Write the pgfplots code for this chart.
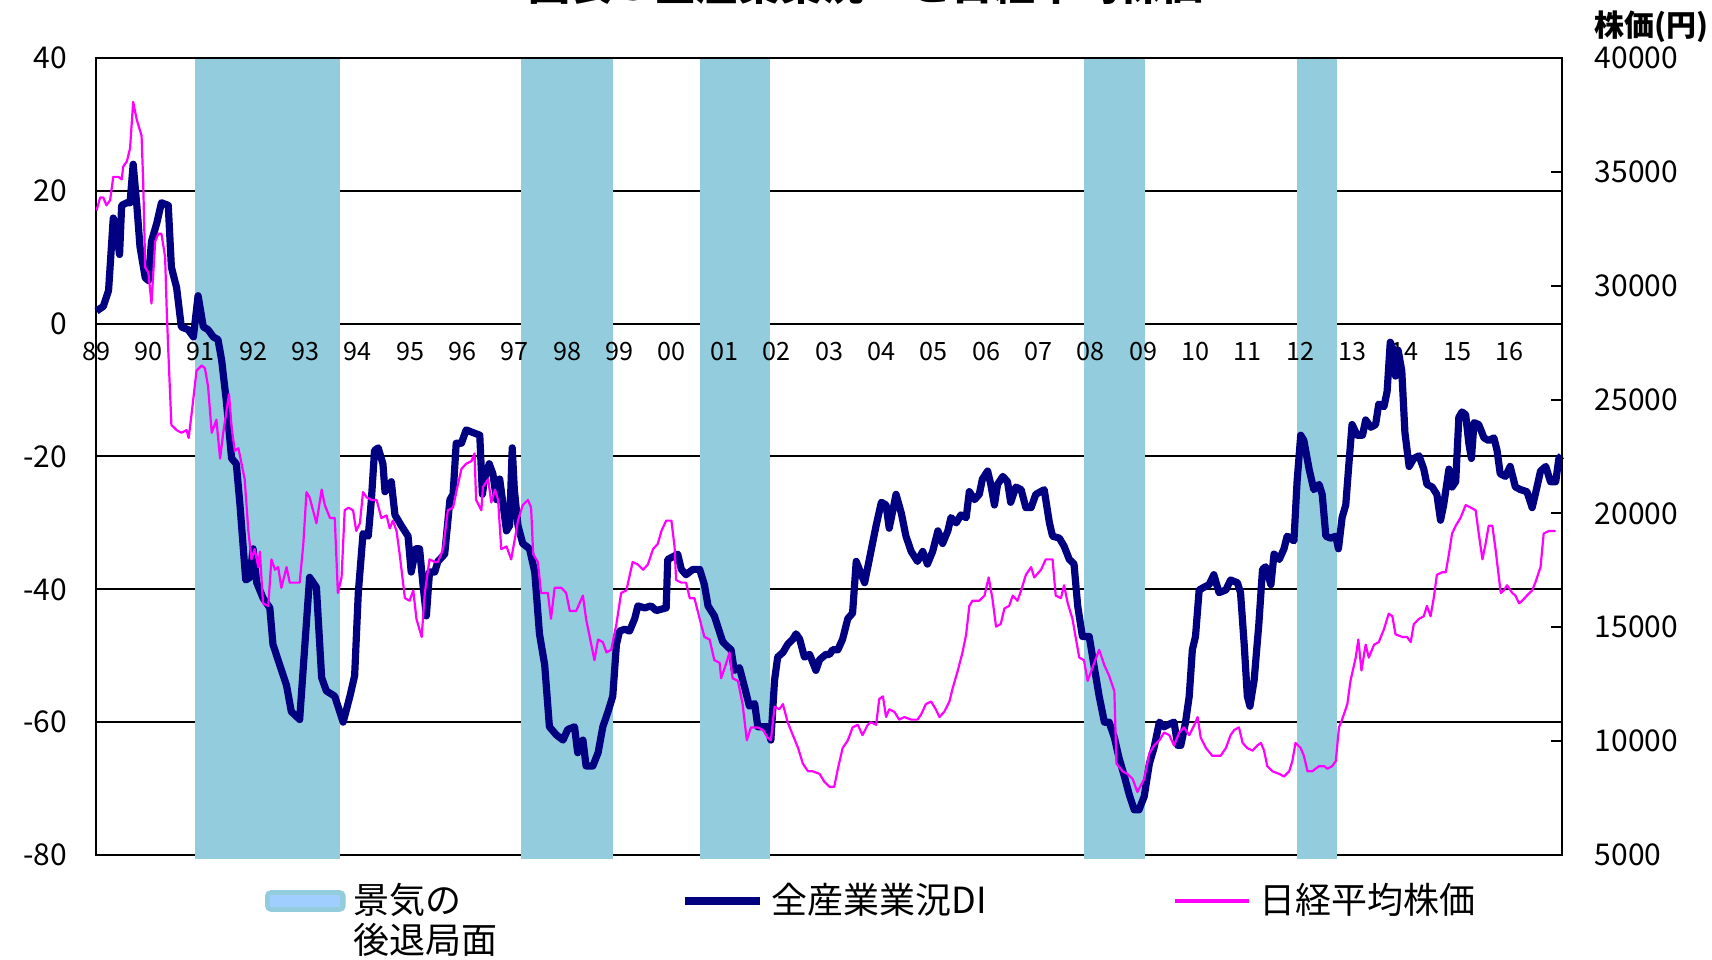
\documentclass[border=0pt]{standalone}
\usepackage{fontspec}
\setmainfont{Noto Sans CJK JP}
\usepackage{pgfplots}
\usepackage{pgfplotstable}
\pgfplotsset{compat=1.18}
\definecolor{bandcol}{RGB}{147,204,221}
\definecolor{bandlight}{RGB}{160,207,255}
\definecolor{dinavy}{RGB}{0,0,128}
\definecolor{nkmag}{RGB}{255,0,255}
\tikzset{ylab/.style={anchor=north, inner sep=0pt, yshift=-4.5pt, font=\fontsize{6.3}{7}\selectfont}}

\pgfplotstableread{
t v
0.01 1.9
0.14 2.6
0.24 5.0
0.33 15.9
0.39 13.9
0.45 10.4
0.49 17.8
0.59 18.2
0.65 18.2
0.71 24.0
0.78 17.8
0.84 11.6
0.94 6.9
1.00 6.5
1.06 12.4
1.16 15.1
1.25 18.2
1.38 17.8
1.44 8.5
1.54 5.4
1.63 -0.5
1.76 -0.9
1.86 -2.0
1.95 4.2
2.05 -0.5
2.14 -0.9
2.24 -2.0
2.33 -2.4
2.40 -5.5
2.49 -11.7
2.59 -20.3
2.68 -21.1
2.75 -27.3
2.81 -33.5
2.86 -38.6
2.94 -38.2
3.00 -33.9
3.07 -39.0
3.19 -41.3
3.32 -42.8
3.38 -48.3
3.51 -51.4
3.64 -54.5
3.73 -58.4
3.89 -59.6
3.99 -48.3
4.08 -38.2
4.21 -39.7
4.31 -53.3
4.40 -55.3
4.56 -56.1
4.72 -60.0
4.85 -56.1
4.94 -53.0
5.01 -40.5
5.10 -31.6
5.20 -32.0
5.26 -26.5
5.32 -19.1
5.39 -18.7
5.48 -21.1
5.52 -25.3
5.64 -23.8
5.71 -28.8
5.83 -30.4
5.96 -32.0
6.02 -37.4
6.11 -33.9
6.18 -33.9
6.25 -39.7
6.31 -44.0
6.37 -37.4
6.47 -37.4
6.53 -35.8
6.66 -34.7
6.76 -26.5
6.82 -25.7
6.88 -18.0
6.98 -18.0
7.07 -16.0
7.20 -16.4
7.33 -16.8
7.38 -25.7
7.42 -23.4
7.51 -21.1
7.58 -22.6
7.65 -26.5
7.71 -23.4
7.77 -26.9
7.84 -31.2
7.90 -30.4
7.95 -18.7
7.99 -25.0
8.06 -30.4
8.15 -33.1
8.28 -33.9
8.38 -37.4
8.47 -46.7
8.57 -51.4
8.66 -60.7
8.79 -61.9
8.92 -62.7
9.01 -61.1
9.14 -60.7
9.20 -64.6
9.30 -62.7
9.36 -66.6
9.49 -66.6
9.59 -64.6
9.68 -60.7
9.78 -58.4
9.87 -56.1
9.94 -48.3
10.00 -46.3
10.10 -46.0
10.19 -46.3
10.29 -44.4
10.35 -42.5
10.48 -42.8
10.60 -42.5
10.70 -43.2
10.89 -42.8
10.92 -35.5
11.02 -35.1
11.11 -34.7
11.18 -37.0
11.27 -37.8
11.40 -37.0
11.53 -37.0
11.62 -39.3
11.69 -42.5
11.81 -44.0
11.97 -47.9
12.07 -48.7
12.13 -49.1
12.19 -52.2
12.29 -51.8
12.38 -54.5
12.48 -57.6
12.58 -57.2
12.64 -60.7
12.83 -60.7
12.89 -62.7
12.96 -53.7
13.02 -50.2
13.12 -49.5
13.21 -48.3
13.31 -47.5
13.37 -46.7
13.44 -47.5
13.53 -50.2
13.63 -49.8
13.75 -52.2
13.82 -50.6
13.94 -49.8
14.01 -49.8
14.07 -49.1
14.17 -49.1
14.26 -47.5
14.36 -44.4
14.45 -43.6
14.52 -35.8
14.58 -37.0
14.68 -39.0
14.77 -35.5
14.90 -30.4
15.00 -26.9
15.09 -27.3
15.15 -30.8
15.22 -28.1
15.28 -25.7
15.38 -28.5
15.47 -32.0
15.57 -34.3
15.69 -35.8
15.79 -34.3
15.88 -36.2
15.98 -34.3
16.08 -31.2
16.17 -33.1
16.27 -31.2
16.33 -29.2
16.43 -30.0
16.52 -28.8
16.62 -29.2
16.68 -25.3
16.78 -26.5
16.87 -25.7
16.93 -23.4
17.03 -22.2
17.09 -24.2
17.16 -27.3
17.22 -24.2
17.32 -23.0
17.41 -23.8
17.47 -26.9
17.57 -24.6
17.67 -25.0
17.76 -27.7
17.86 -27.7
17.95 -25.7
18.11 -25.0
18.21 -30.0
18.27 -32.0
18.40 -32.3
18.49 -33.5
18.59 -35.5
18.68 -36.2
18.75 -42.5
18.84 -47.1
18.97 -47.1
19.06 -51.4
19.16 -56.1
19.26 -60.0
19.35 -60.0
19.45 -62.3
19.54 -65.4
19.64 -68.1
19.73 -70.8
19.83 -73.2
19.92 -73.2
20.02 -71.2
20.12 -66.2
20.21 -63.8
20.31 -60.0
20.40 -60.7
20.50 -60.3
20.59 -60.0
20.66 -63.5
20.72 -63.5
20.81 -60.0
20.88 -56.1
20.94 -49.1
21.00 -47.1
21.07 -40.1
21.16 -39.7
21.26 -39.3
21.35 -37.8
21.45 -40.5
21.58 -40.1
21.67 -38.6
21.80 -39.0
21.86 -40.5
21.93 -48.3
21.99 -56.1
22.04 -57.6
22.12 -53.7
22.21 -45.2
22.28 -37.0
22.34 -36.6
22.44 -39.3
22.50 -34.7
22.60 -35.5
22.69 -33.9
22.75 -32.0
22.88 -32.7
22.94 -23.8
23.01 -16.8
23.07 -17.6
23.17 -21.9
23.26 -25.0
23.36 -24.2
23.42 -25.7
23.49 -32.0
23.58 -32.3
23.68 -32.0
23.73 -33.9
23.80 -29.2
23.87 -27.3
23.93 -21.1
23.99 -15.2
24.09 -16.8
24.19 -16.8
24.25 -14.5
24.35 -15.6
24.44 -15.2
24.50 -12.1
24.60 -12.5
24.66 -10.2
24.72 -2.8
24.76 -3.6
24.82 -7.9
24.87 -4.0
24.94 -7.1
25.00 -16.4
25.08 -21.5
25.17 -20.3
25.27 -19.9
25.36 -21.9
25.42 -24.2
25.52 -24.6
25.61 -25.7
25.68 -29.6
25.74 -27.3
25.84 -21.9
25.90 -24.6
25.97 -23.8
26.03 -14.1
26.09 -13.3
26.16 -13.7
26.22 -18.0
26.27 -20.3
26.32 -14.9
26.41 -15.2
26.51 -17.2
26.60 -17.6
26.70 -17.2
26.76 -19.1
26.82 -22.6
26.92 -23.0
27.01 -21.5
27.11 -24.6
27.21 -25.0
27.33 -25.3
27.43 -27.7
27.49 -25.7
27.59 -22.2
27.69 -21.5
27.78 -23.8
27.88 -23.8
27.94 -20.3
27.99 -19.9
}\didata

\pgfplotstableread{
t v
0.01 33303
0.08 33871
0.14 33871
0.20 33530
0.27 33758
0.33 34779
0.43 34779
0.49 34666
0.52 35233
0.59 35460
0.65 36027
0.71 38071
0.78 37276
0.87 36595
0.90 34666
0.94 30807
1.00 30580
1.06 29218
1.13 31942
1.19 32283
1.25 32283
1.32 31261
1.35 28991
1.38 27175
1.44 23884
1.54 23657
1.63 23543
1.73 23657
1.77 23316
1.83 24451
1.92 26267
2.02 26494
2.08 26380
2.14 25586
2.21 23543
2.30 24111
2.37 22408
2.43 23543
2.49 24451
2.54 25246
2.59 23770
2.65 22749
2.72 22862
2.78 22182
2.84 21501
2.91 19231
2.97 17982
3.03 18436
3.10 17641
3.13 18322
3.19 16052
3.29 15938
3.35 17982
3.42 17528
3.48 17641
3.54 16733
3.64 17641
3.70 16960
3.89 16960
3.96 18663
4.02 20932
4.08 20705
4.21 19570
4.31 21046
4.37 20365
4.47 19797
4.56 19797
4.62 16506
4.69 17187
4.75 20138
4.82 20251
4.91 20138
4.97 19231
5.04 19570
5.10 20932
5.17 20705
5.26 20592
5.36 20592
5.45 19797
5.55 19911
5.61 19343
5.67 19684
5.74 19231
5.80 18209
5.90 16279
5.99 16165
6.06 16619
6.12 15371
6.22 14576
6.28 16506
6.37 17982
6.47 17868
6.53 17868
6.63 18436
6.72 20138
6.82 20251
6.88 20932
6.98 21954
7.07 22182
7.17 22295
7.23 22635
7.26 20592
7.36 20138
7.39 21160
7.49 21501
7.55 20478
7.62 21046
7.68 20592
7.74 18436
7.84 18549
7.93 17982
8.00 18890
8.06 19684
8.15 20365
8.25 20592
8.31 20251
8.35 18209
8.44 17868
8.50 16506
8.63 16506
8.69 15371
8.76 16733
8.89 16733
8.98 16506
9.05 15711
9.17 15711
9.30 16392
9.36 15371
9.46 14236
9.52 13555
9.59 14463
9.68 14349
9.75 13896
9.84 14009
9.94 15143
10.03 16506
10.13 16619
10.25 17868
10.35 17755
10.45 17528
10.54 17755
10.64 18436
10.73 18663
10.80 19231
10.89 19684
10.99 19684
11.05 18549
11.08 17073
11.18 16960
11.27 16960
11.34 16279
11.43 16279
11.53 15371
11.62 14576
11.72 14463
11.81 13555
11.91 13441
11.94 12760
12.04 13441
12.10 13896
12.16 12760
12.26 12647
12.35 11625
12.43 10036
12.51 10603
12.64 10603
12.74 10490
12.83 10149
12.89 10036
12.96 11511
13.05 11398
13.12 11625
13.21 10830
13.31 10263
13.41 9695
13.50 9014
13.60 8674
13.69 8674
13.82 8560
13.91 8220
14.01 7993
14.10 7993
14.17 8787
14.26 9695
14.36 10036
14.45 10603
14.55 10717
14.64 10263
14.74 10717
14.80 10830
14.90 10717
14.96 11852
15.03 11965
15.09 11057
15.15 11398
15.25 11285
15.34 10944
15.44 11057
15.57 10944
15.69 10944
15.76 11171
15.85 11625
15.95 11738
16.04 11398
16.11 11057
16.20 11285
16.30 11738
16.36 12306
16.46 13100
16.55 13896
16.62 14689
16.68 15938
16.74 16165
16.87 16165
16.97 16392
17.05 17187
17.12 16279
17.19 15030
17.28 15143
17.35 15824
17.44 15938
17.51 16392
17.60 16165
17.67 16619
17.76 17300
17.86 17641
17.92 17187
18.05 17528
18.14 17982
18.27 17982
18.33 16392
18.43 16279
18.49 16846
18.56 16052
18.65 15371
18.71 14576
18.78 13668
18.87 13555
18.94 12647
19.03 13214
19.16 14009
19.26 13328
19.35 12874
19.45 12193
19.49 9014
19.61 8674
19.70 8560
19.80 8334
19.89 7766
20.02 8334
20.12 9468
20.21 9809
20.31 10036
20.40 10376
20.50 10263
20.59 9809
20.69 10376
20.78 10603
20.88 10263
20.98 10717
21.04 11057
21.10 10149
21.20 9695
21.32 9354
21.42 9354
21.48 9354
21.58 9695
21.67 10263
21.74 10490
21.83 10603
21.90 9922
21.99 9695
22.09 9582
22.18 9809
22.25 9922
22.31 9582
22.37 8901
22.47 8674
22.60 8560
22.69 8447
22.79 8674
22.85 9128
22.91 9922
23.01 9695
23.07 9354
23.14 8674
23.23 8674
23.36 8901
23.46 8901
23.52 8787
23.61 8901
23.68 9128
23.74 10603
23.80 10944
23.90 11625
23.96 12647
24.06 13668
24.11 14463
24.17 13100
24.25 14236
24.31 13668
24.41 14236
24.50 14349
24.60 14917
24.69 15598
24.76 15484
24.82 14689
24.95 14576
25.04 14576
25.11 14349
25.17 15143
25.27 15371
25.36 15484
25.42 15938
25.49 15484
25.55 16279
25.61 17300
25.71 17414
25.78 17414
25.84 18209
25.90 19117
25.97 19457
26.06 19797
26.16 20365
26.26 20251
26.35 20138
26.41 19117
26.48 17982
26.54 18663
26.60 19457
26.67 19457
26.73 18436
26.83 16506
26.89 16619
26.95 16846
27.05 16506
27.11 16392
27.18 16052
27.24 16165
27.33 16392
27.43 16619
27.49 16960
27.59 17641
27.65 19117
27.75 19230
27.88 19230
}\nkdata

\begin{document}
\begin{tikzpicture}
\begin{axis}[
  scale only axis, width=366.5pt, height=199.25pt,
  at={(0pt,0pt)}, anchor=south west,
  xmin=0, xmax=28, ymin=-80, ymax=40,
  clip=false,
  xtick=\empty,
  ytick={-80,-60,...,40},
  yticklabel style={font=\fontsize{7.5}{8}\selectfont, inner sep=0pt, anchor=east, xshift=-7pt},
  /pgf/number format/assume math mode=true,
  ymajorgrids, grid style={black, line width=0.5pt},
  tick style={draw=none},
  axis line style={black, line width=0.6pt},
]
\addplot[fill=bandcol, draw=none] coordinates {(1.89,-80.6) (1.89,39.8) (4.66,39.8) (4.66,-80.6)} -- cycle;
\addplot[fill=bandcol, draw=none] coordinates {(8.11,-80.6) (8.11,39.8) (9.87,39.8) (9.87,-80.6)} -- cycle;
\addplot[fill=bandcol, draw=none] coordinates {(11.54,-80.6) (11.54,39.8) (12.88,39.8) (12.88,-80.6)} -- cycle;
\addplot[fill=bandcol, draw=none] coordinates {(18.87,-80.6) (18.87,39.8) (20.03,39.8) (20.03,-80.6)} -- cycle;
\addplot[fill=bandcol, draw=none] coordinates {(22.94,-80.6) (22.94,39.8) (23.70,39.8) (23.70,-80.6)} -- cycle;
\node[ylab] at (axis cs:0,0) {89};
\node[ylab] at (axis cs:1,0) {90};
\node[ylab] at (axis cs:2,0) {91};
\node[ylab] at (axis cs:3,0) {92};
\node[ylab] at (axis cs:4,0) {93};
\node[ylab] at (axis cs:5,0) {94};
\node[ylab] at (axis cs:6,0) {95};
\node[ylab] at (axis cs:7,0) {96};
\node[ylab] at (axis cs:8,0) {97};
\node[ylab] at (axis cs:9,0) {98};
\node[ylab] at (axis cs:10,0) {99};
\node[ylab] at (axis cs:11,0) {00};
\node[ylab] at (axis cs:12,0) {01};
\node[ylab] at (axis cs:13,0) {02};
\node[ylab] at (axis cs:14,0) {03};
\node[ylab] at (axis cs:15,0) {04};
\node[ylab] at (axis cs:16,0) {05};
\node[ylab] at (axis cs:17,0) {06};
\node[ylab] at (axis cs:18,0) {07};
\node[ylab] at (axis cs:19,0) {08};
\node[ylab] at (axis cs:20,0) {09};
\node[ylab] at (axis cs:21,0) {10};
\node[ylab] at (axis cs:22,0) {11};
\node[ylab] at (axis cs:23,0) {12};
\node[ylab] at (axis cs:24,0) {13};
\node[ylab] at (axis cs:25,0) {14};
\node[ylab] at (axis cs:26,0) {15};
\node[ylab] at (axis cs:27,0) {16};
\addplot[dinavy, line width=1.8pt, line join=round] table[x=t, y=v] {\didata};
\end{axis}
\begin{axis}[
  scale only axis, width=366.5pt, height=199.25pt,
  at={(0pt,0pt)}, anchor=south west,
  xmin=0, xmax=28, ymin=5000, ymax=40000,
  axis x line=none, axis y line=right,
  y axis line style={-, black, line width=0.6pt},
  ytick={5000,10000,...,40000},
  scaled y ticks=false,
  yticklabel style={font=\fontsize{7.5}{8}\selectfont, inner sep=0pt, anchor=west, xshift=8pt, /pgf/number format/1000 sep={}},
  /pgf/number format/assume math mode=true,
  tick align=inside, major tick length=2.75pt,
  tick style={black, line width=0.5pt},
  legend columns=3,
  legend cell align=left,
  legend style={at={(axis description cs:0.1153,-0.0577)}, anchor=west,
    draw=none, fill=none, inner sep=0pt, outer sep=0pt,
    font=\fontsize{9}{10}\selectfont,
    nodes={inner xsep=2pt, inner ysep=0pt},
    /tikz/every even column/.append style={column sep=0pt}},
]
\addlegendimage{legend image code/.code={%
  \fill[bandcol, rounded corners=1.2pt] (0pt,-2.5pt) rectangle (19.75pt,2.5pt);
  \fill[bandlight] (1.3pt,-1.4pt) rectangle (18.45pt,1.4pt);}}
\addlegendentry{\makebox[80pt][l]{\rlap{\raisebox{-10pt}[0pt][0pt]{後退局面}}景気の}}
\addlegendimage{legend image code/.code={%
  \draw[dinavy, line width=1.8pt] (0pt,0pt) -- (18.75pt,0pt);}}
\addlegendentry{\makebox[98.5pt][l]{全産業業況DI}}
\addplot[nkmag, line width=0.55pt, line join=round,
  legend image code/.code={\draw[nkmag, line width=0.8pt] (0pt,0pt) -- (18.5pt,0pt);}]
  table[x=t, y=v] {\nkdata};
\addlegendentry{日経平均株価}
\end{axis}
\node[anchor=south, inner sep=0pt, font=\bfseries\fontsize{10.5}{12}\selectfont] at (192.5pt,212.4pt) {図表３全産業業況DIと日経平均株価};
\node[anchor=east, inner sep=0pt, font=\bfseries\fontsize{7.5}{9}\selectfont] at (403.3pt,207pt) {株価(円)};
\pgfresetboundingbox
\useasboundingbox (-24pt,-26.25pt) rectangle (404pt,213.75pt);
\end{tikzpicture}
\end{document}
